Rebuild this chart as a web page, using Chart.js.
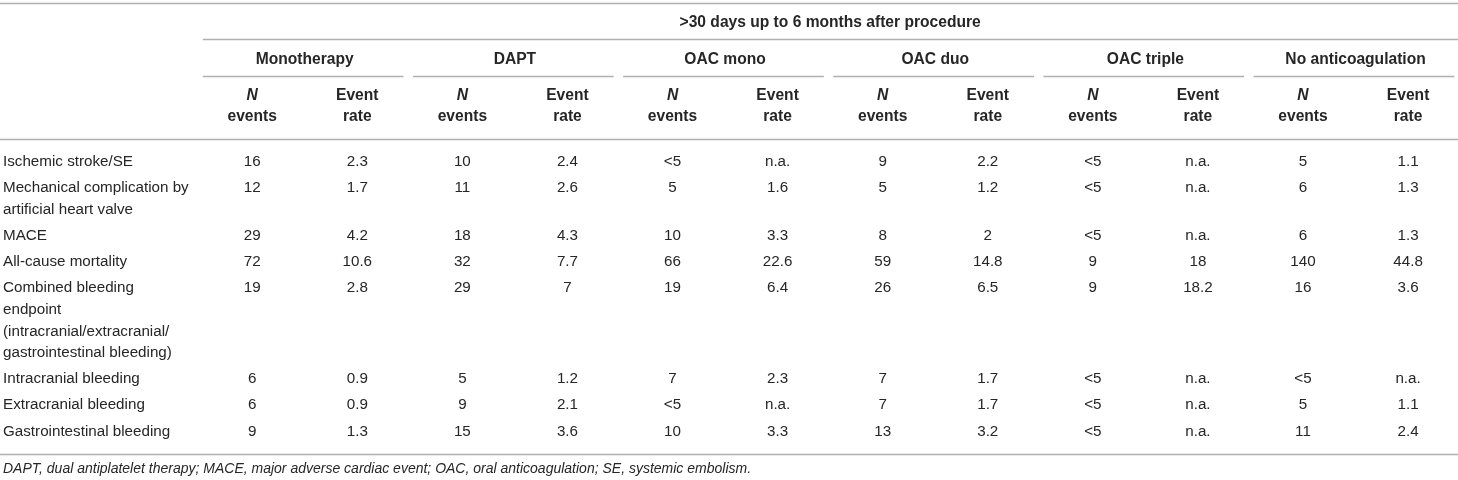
<!DOCTYPE html>
<html>
<head>
<meta charset="utf-8">
<script src="https://cdn.jsdelivr.net/npm/chart.js@4.4.1/dist/chart.umd.min.js"></script>
<style>
  html, body { margin: 0; padding: 0; background: #fff; }
  #wrap { width: 1458px; height: 480px; }
</style>
</head>
<body>
<div id="wrap"><canvas id="outcomeTable" width="1458" height="480"></canvas></div>
<script>
const periodTitle = '>30 days up to 6 months after procedure';
const groups = ['Monotherapy', 'DAPT', 'OAC mono', 'OAC duo', 'OAC triple', 'No anticoagulation'];
const outcomes = [
  ['Ischemic stroke/SE'],
  ['Mechanical complication by', 'artificial heart valve'],
  ['MACE'],
  ['All-cause mortality'],
  ['Combined bleeding', 'endpoint', '(intracranial/extracranial/', 'gastrointestinal bleeding)'],
  ['Intracranial bleeding'],
  ['Extracranial bleeding'],
  ['Gastrointestinal bleeding'],
];

// values are kept as text, the table mixes counts with "<5" and "n.a."
const monoN = ['16', '12', '29', '72', '19', '6', '6', '9'];
const monoRate = ['2.3', '1.7', '4.2', '10.6', '2.8', '0.9', '0.9', '1.3'];
const daptN = ['10', '11', '18', '32', '29', '5', '9', '15'];
const daptRate = ['2.4', '2.6', '4.3', '7.7', '7', '1.2', '2.1', '3.6'];
const oacMonoN = ['<5', '5', '10', '66', '19', '7', '<5', '10'];
const oacMonoRate = ['n.a.', '1.6', '3.3', '22.6', '6.4', '2.3', 'n.a.', '3.3'];
const oacDuoN = ['9', '5', '8', '59', '26', '7', '7', '13'];
const oacDuoRate = ['2.2', '1.2', '2', '14.8', '6.5', '1.7', '1.7', '3.2'];
const oacTripleN = ['<5', '<5', '<5', '9', '9', '<5', '<5', '<5'];
const oacTripleRate = ['n.a.', 'n.a.', 'n.a.', '18', '18.2', 'n.a.', 'n.a.', 'n.a.'];
const noAcN = ['5', '6', '6', '140', '16', '<5', '5', '11'];
const noAcRate = ['1.1', '1.3', '1.3', '44.8', '3.6', 'n.a.', '1.1', '2.4'];

const footnote = 'DAPT, dual antiplatelet therapy; MACE, major adverse cardiac event; OAC, oral anticoagulation; SE, systemic embolism.';

const columns = [monoN, monoRate, daptN, daptRate, oacMonoN, oacMonoRate,
  oacDuoN, oacDuoRate, oacTripleN, oacTripleRate, noAcN, noAcRate];

// y runs in text lines, rows stack by how many lines their label needs
const ROW_PAD = 0.21;
const FIRST_ROW = 7.5;
const rowY = [];
let cursor = FIRST_ROW;
outcomes.forEach((lines) => {
  rowY.push(cursor);
  cursor += lines.length + ROW_PAD;
});

const FONT = '"Liberation Sans", Arial, Helvetica, sans-serif';
const TEXT = '#262626';
const RULE = '#b0b0b0';
const BOLD = `bold 15.6px ${FONT}`;

const tablePlugin = {
  id: 'tableText',
  afterDraw(chart) {
    const { ctx, scales: { x, y } } = chart;
    const px = (v) => x.getPixelForValue(v);
    const py = (v) => y.getPixelForValue(v);

    const rule = (x0, x1, yv) => {
      const yy = Math.round(py(yv)) + 0.5;
      ctx.beginPath();
      ctx.moveTo(x0, yy);
      ctx.lineTo(x1, yy);
      ctx.stroke();
    };
    const text = (str, xx, yv, font, align) => {
      ctx.font = font;
      ctx.textAlign = align;
      ctx.fillText(str, xx, py(yv));
    };

    ctx.save();
    ctx.strokeStyle = RULE;
    ctx.lineWidth = 1.5;
    ctx.fillStyle = TEXT;
    ctx.textBaseline = 'middle';

    // header
    rule(x.left, x.right, 0.125);
    text(periodTitle, px(groups.length), 1.07, BOLD, 'center');
    rule(px(0.03), px(12), 1.81);
    groups.forEach((g, i) => {
      text(g, px(i * 2 + 1), 2.75, BOLD, 'center');
      rule(px(i * 2 + 0.03), px(i * 2 + 1.94), 3.53);
    });
    columns.forEach((col, i) => {
      const cx = px(i + 0.5);
      if (i % 2 === 0) {
        text('N', cx, 4.44, `italic ${BOLD}`, 'center');
        text('events', cx, 5.42, BOLD, 'center');
      } else {
        text('Event', cx, 4.44, BOLD, 'center');
        text('rate', cx, 5.42, BOLD, 'center');
      }
    });
    rule(x.left, x.right, 6.435);

    // body
    outcomes.forEach((lines, r) => {
      lines.forEach((ln, k) => text(ln, x.left + 3, rowY[r] + k, `15.2px ${FONT}`, 'left'));
      columns.forEach((col, i) => text(col[r], px(i + 0.5), rowY[r], `15.2px ${FONT}`, 'center'));
    });
    const lastRow = rowY[rowY.length - 1];
    rule(x.left, x.right, lastRow + 1.05);
    text(footnote, x.left + 3, lastRow + 1.74, `italic 14px ${FONT}`, 'left');
    ctx.restore();
  },
};

new Chart(document.getElementById('outcomeTable'), {
  type: 'scatter',
  data: { datasets: [] },
  options: {
    responsive: false,
    animation: false,
    events: [],
    layout: { padding: 0 },
    plugins: { legend: { display: false }, tooltip: { enabled: false }, title: { display: false } },
    scales: {
      x: { type: 'linear', min: -1.9, max: 11.975, display: false },
      y: { type: 'linear', min: 0, max: 22.22, reverse: true, display: false },
    },
  },
  plugins: [tablePlugin],
});
</script>
</body>
</html>
